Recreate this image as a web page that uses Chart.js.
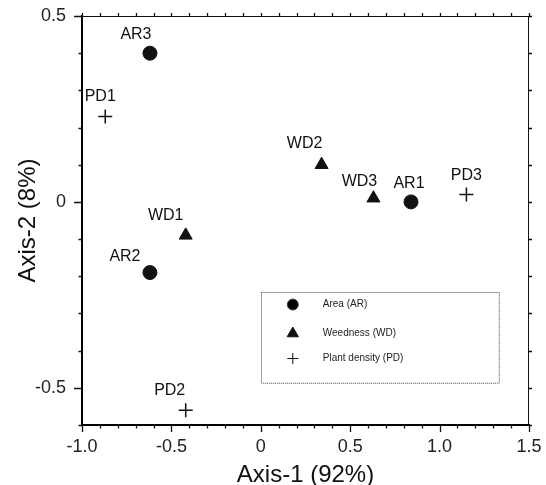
<!DOCTYPE html>
<html>
<head>
<meta charset="utf-8">
<script src="https://cdn.jsdelivr.net/npm/chart.js@4.4.1/dist/chart.umd.min.js"></script>
<style>
  body { margin: 0; background: #fff; }
  #wrap { width: 546px; height: 485px; position: relative; }
</style>
</head>
<body>
<div id="wrap"><canvas id="ordenacion"></canvas></div>
<script>
// Datos (Axis-1 / Axis-2)
const areaLabels = ["AR1", "AR2", "AR3"];
const areaX = [0.84, -0.62, -0.62];
const areaY = [0.00, -0.19, 0.40];

const weedLabels = ["WD1", "WD2", "WD3"];
const weedX = [-0.42, 0.34, 0.63];
const weedY = [-0.09, 0.10, 0.01];

const densLabels = ["PD1", "PD2", "PD3"];
const densX = [-0.87, -0.42, 1.15];
const densY = [0.23, -0.56, 0.02];

const seriesNames = ["Area (AR)", "Weedness (WD)", "Plant density (PD)"];
const xMajorTicks = ["-1.0", "-0.5", "0", "0.5", "1.0", "1.5"];
const yMajorTicks = ["-0.5", "0", "0.5"];

const FONT = "'Liberation Sans', Arial, Helvetica, sans-serif";
const INK = "#111";

// desplazamiento de cada etiqueta respecto a su punto (px)
const labelOffset = {
  AR1: [-2, -18], AR2: [-25, -16], AR3: [-14, -19],
  WD1: [-20, -20], WD2: [-17, -21], WD3: [-14, -17],
  PD1: [-5, -20], PD2: [-16, -20], PD3: [0, -19]
};

function puntos(xs, ys) {
  return xs.map((x, i) => ({ x: x, y: ys[i] }));
}

function esMayor(v) {
  return Math.abs(v * 2 - Math.round(v * 2)) < 1e-9;
}

const etiquetasPuntos = {
  id: "etiquetasPuntos",
  afterDatasetsDraw(chart) {
    const c = chart.ctx;
    c.save();
    c.font = "16px " + FONT;
    c.fillStyle = INK;
    c.textAlign = "center";
    c.textBaseline = "middle";
    chart.data.datasets.forEach((ds, i) => {
      chart.getDatasetMeta(i).data.forEach((el, j) => {
        const txt = ds.names[j];
        const off = labelOffset[txt] || [0, -18];
        c.fillText(txt, el.x + off[0], el.y + off[1]);
      });
    });
    c.restore();
  }
};

const marcasEjes = {
  id: "marcasEjes",
  afterDraw(chart) {
    const c = chart.ctx;
    const a = chart.chartArea;
    const sx = chart.scales.x;
    const sy = chart.scales.y;
    c.save();
    c.strokeStyle = INK;
    // marco superior y derecho
    c.lineWidth = 1;
    c.beginPath();
    c.moveTo(a.left, a.top + 0.5);
    c.lineTo(a.right, a.top + 0.5);
    c.moveTo(a.right - 0.5, a.top);
    c.lineTo(a.right - 0.5, a.bottom);
    c.stroke();
    // marcas de los ejes
    c.beginPath();
    sx.ticks.forEach(t => {
      const px = Math.round(sx.getPixelForValue(t.value)) + 0.5;
      const len = esMayor(t.value) ? 7 : 3.5;
      c.moveTo(px, a.bottom);
      c.lineTo(px, a.bottom + len);
      c.moveTo(px, a.top);
      c.lineTo(px, a.top - 3);
    });
    sy.ticks.forEach(t => {
      const py = Math.round(sy.getPixelForValue(t.value)) + 0.5;
      const len = esMayor(t.value) ? 8 : 3.5;
      c.moveTo(a.left, py);
      c.lineTo(a.left - len, py);
      c.moveTo(a.right, py);
      c.lineTo(a.right + 3, py);
    });
    c.lineWidth = 1.3;
    c.stroke();
    c.restore();
  }
};

const leyenda = {
  id: "leyenda",
  afterDraw(chart) {
    const c = chart.ctx;
    const sx = chart.scales.x;
    const sy = chart.scales.y;
    const x0 = sx.getPixelForValue(0.0);
    const x1 = sx.getPixelForValue(1.33);
    const y0 = sy.getPixelForValue(-0.241);
    const y1 = sy.getPixelForValue(-0.485);
    c.save();
    c.strokeStyle = "#444";
    c.lineWidth = 1;
    c.setLineDash([1, 1]);
    c.strokeRect(Math.round(x0) + 0.5, Math.round(y0) + 0.5, x1 - x0, y1 - y0);
    c.setLineDash([]);
    const filas = [y0 + 13, y0 + 42, y0 + 67];
    const radios = [5.5, 6.5, 5.5];
    c.font = "10px " + FONT;
    c.textAlign = "left";
    c.textBaseline = "middle";
    chart.data.datasets.forEach((ds, i) => {
      Chart.helpers.drawPoint(c, {
        pointStyle: ds.pointStyle,
        radius: radios[i],
        borderWidth: ds.borderWidth
      }, x0 + 32, filas[i]);
      c.fillStyle = "#222";
      c.fillText(ds.label, x0 + 62, filas[i]);
      c.fillStyle = INK;
      c.strokeStyle = INK;
    });
    c.restore();
  }
};

const ctx = document.getElementById("ordenacion");
new Chart(ctx, {
  type: "scatter",
  data: {
    datasets: [
      {
        label: seriesNames[0],
        names: areaLabels,
        data: puntos(areaX, areaY),
        pointStyle: "circle",
        pointRadius: 7,
        backgroundColor: INK,
        borderColor: INK,
        borderWidth: 1
      },
      {
        label: seriesNames[1],
        names: weedLabels,
        data: puntos(weedX, weedY),
        pointStyle: "triangle",
        pointRadius: 7.5,
        backgroundColor: INK,
        borderColor: INK,
        borderWidth: 1
      },
      {
        label: seriesNames[2],
        names: densLabels,
        data: puntos(densX, densY),
        pointStyle: "cross",
        pointRadius: 7,
        backgroundColor: INK,
        borderColor: INK,
        borderWidth: 1.5
      }
    ]
  },
  options: {
    responsive: true,
    maintainAspectRatio: false,
    animation: false,
    events: [],
    layout: { padding: { top: 16, right: 17, left: 0, bottom: 0 } },
    plugins: {
      legend: { display: false },
      tooltip: { enabled: false }
    },
    scales: {
      x: {
        type: "linear",
        min: -1.0,
        max: 1.5,
        afterFit: s => { s.height = 60; s.paddingLeft = 0; s.paddingRight = 0; },
        grid: { display: false, drawTicks: false },
        border: { display: true, color: "#000", width: 2 },
        ticks: {
          stepSize: 0.1,
          autoSkip: false,
          maxRotation: 0,
          padding: 11,
          color: "#222",
          font: { family: FONT, size: 18 },
          callback: v => esMayor(v) ? xMajorTicks[Math.round((v + 1.0) * 2)] : ""
        },
        title: {
          display: true,
          text: "Axis-1 (92%)",
          color: INK,
          font: { family: FONT, size: 24, lineHeight: 1 },
          padding: { top: 0, bottom: -2 }
        }
      },
      y: {
        type: "linear",
        min: -0.6,
        max: 0.5,
        afterFit: s => { s.width = 82; s.paddingTop = 0; s.paddingBottom = 0; },
        grid: { display: false, drawTicks: false },
        border: { display: true, color: "#000", width: 2 },
        ticks: {
          stepSize: 0.1,
          autoSkip: false,
          padding: 16,
          color: "#222",
          font: { family: FONT, size: 18 },
          callback: v => esMayor(v) ? yMajorTicks[Math.round((v + 0.5) * 2)] : ""
        },
        title: {
          display: true,
          text: "Axis-2 (8%)",
          color: INK,
          font: { family: FONT, size: 24, lineHeight: 1 },
          padding: { top: 16, bottom: 0 }
        }
      }
    }
  },
  plugins: [etiquetasPuntos, marcasEjes, leyenda]
});
</script>
</body>
</html>
